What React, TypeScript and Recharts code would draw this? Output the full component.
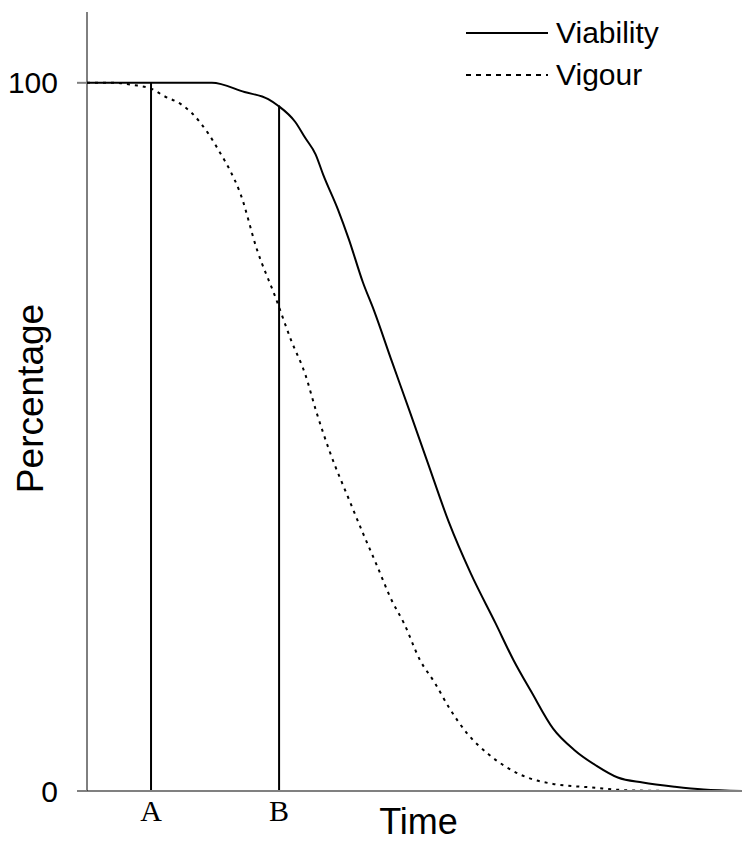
import React from 'react';
import { LineChart, Line, XAxis, YAxis, ReferenceLine, Legend, Label } from 'recharts';

// Time in units where mark A = 1 and mark B = 3
const viabilityTime = [0, 1.45, 1.95, 2.46, 2.83, 2.98, 3.25, 3.41, 3.57, 3.69, 3.92, 4.09, 4.31, 4.48, 4.76, 5.04, 5.32, 5.65, 5.99, 6.38, 6.66, 6.94, 7.28, 7.61, 7.95, 8.29, 8.68, 9.18, 9.63, 10.23];
const viabilityPct = [100, 100, 100, 98.7, 97.7, 96.8, 94.5, 92.2, 89.9, 87.0, 82.1, 77.9, 71.8, 67.9, 60.7, 53.6, 46.4, 38.0, 30.8, 23.7, 18.5, 14.0, 8.8, 5.8, 3.6, 1.9, 1.2, 0.6, 0.2, 0];

const vigourTime = [0, 0.41, 0.72, 1.02, 1.19, 1.48, 1.64, 1.89, 2.08, 2.23, 2.39, 2.66, 2.94, 3.19, 3.41, 3.58, 3.8, 4.09, 4.31, 4.53, 4.76, 4.95, 5.2, 5.43, 5.66, 5.94, 6.27, 6.77, 7.28, 7.89, 8.45, 9.3, 10.23];
const vigourPct = [100, 100, 99.7, 99.1, 98.2, 96.9, 95.7, 92.9, 90.1, 87.7, 84.5, 76.3, 69.8, 63.6, 58.8, 53.6, 47.7, 41.2, 36.4, 31.8, 26.9, 23.7, 18.5, 15.3, 11.7, 8.1, 5.2, 2.3, 1.0, 0.5, 0.1, 0, 0];

const markerLabels = ['A', 'B'];
const markerTimes = [1, 3];
const markerTops = [100, 96.8];

const yTicks = [0, 100];
const seriesNames = ['Viability', 'Vigour'];

const viabilityData = viabilityTime.map((t, i) => ({ t, v: viabilityPct[i] }));
const vigourData = vigourTime.map((t, i) => ({ t, v: vigourPct[i] }));

const SANS = '"Liberation Sans", Arial, sans-serif';
const SERIF = '"Liberation Serif", "Times New Roman", serif';

const PercentLabel = (props: any) => {
  const { x, y, height } = props.viewBox;
  const cx = x + 30;
  const cy = y + height / 2 - 3;
  return (
    <text x={cx} y={cy} transform={`rotate(-90 ${cx} ${cy})`} textAnchor="middle" dominantBaseline="central"
      fontFamily={SANS} fontSize={37} fill="#000">Percentage</text>
  );
};

const TimeLabel = (props: any) => {
  const { x, y, width, height } = props.viewBox;
  return (
    <text x={x + width / 2 + 4} y={y + height - 9} textAnchor="middle" fontFamily={SANS} fontSize={36} fill="#000">Time</text>
  );
};

const renderLegend = () => (
  <div style={{ fontFamily: SANS, fontSize: 30, color: '#000' }}>
    {seriesNames.map((name, i) => (
      <div key={name} style={{ display: 'flex', alignItems: 'center', height: 42 }}>
        <svg width={82} height={6} style={{ display: 'block' }}>
          <line x1={0} y1={3} x2={82} y2={3} stroke="#000" strokeWidth={2}
            strokeDasharray={i === 1 ? '5 5' : undefined} />
        </svg>
        <span style={{ marginLeft: 8, lineHeight: '42px' }}>{name}</span>
      </div>
    ))}
  </div>
);

export default function App() {
  return (
    <div style={{ position: 'absolute', left: 0, top: 0, width: 742, height: 843, background: '#fff' }}>
      <LineChart width={742} height={843} margin={{ top: 12, right: 0, bottom: 0, left: 0 }}>
        <XAxis type="number" dataKey="t" domain={[0, 10.23]} ticks={markerTimes}
          tickFormatter={(v: number) => markerLabels[markerTimes.indexOf(v)]}
          tickLine={false} axisLine={{ stroke: '#808080', strokeWidth: 2 }} height={52}
          tick={{ fontFamily: SERIF, fontSize: 30, fill: '#000' }} tickMargin={3} allowDataOverflow
          label={<Label content={TimeLabel} />} />
        <YAxis type="number" domain={[0, 110]} ticks={yTicks} width={87} tickSize={10}
          tickLine={{ stroke: '#808080', strokeWidth: 2 }} axisLine={{ stroke: '#000', strokeWidth: 1 }}
          tick={{ fontFamily: SANS, fontSize: 30, fill: '#000' }} tickMargin={19} allowDataOverflow
          label={<Label content={PercentLabel} />} />
        <Legend content={renderLegend} layout="horizontal" verticalAlign="middle" align="center"
          wrapperStyle={{ top: 12, left: 466, width: 260, height: 84 }} />
        {markerTimes.map((t, i) => (
          <ReferenceLine key={markerLabels[i]} segment={[{ x: t, y: 0 }, { x: t, y: markerTops[i] }]}
            stroke="#000" strokeWidth={2} />
        ))}
        <Line data={viabilityData} dataKey="v" name="Viability" type="monotone" stroke="#000" strokeWidth={2}
          dot={false} activeDot={false} isAnimationActive={false} />
        <Line data={vigourData} dataKey="v" name="Vigour" type="monotone" stroke="#000" strokeWidth={2}
          strokeDasharray="3 5" dot={false} activeDot={false} isAnimationActive={false} />
      </LineChart>
    </div>
  );
}
